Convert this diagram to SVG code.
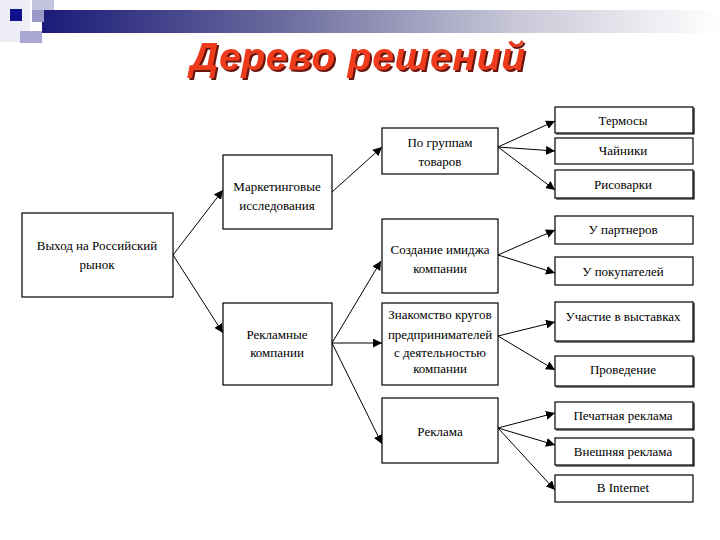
<svg xmlns="http://www.w3.org/2000/svg" width="720" height="540" viewBox="0 0 720 540">
<defs>
<linearGradient id="bar" x1="0" y1="0" x2="1" y2="0">
<stop offset="0" stop-color="#1a1a78"/>
<stop offset="0.35" stop-color="#6a6a9e"/>
<stop offset="0.7" stop-color="#c8c8d8"/>
<stop offset="1" stop-color="#ffffff"/>
</linearGradient>
<filter id="tsh" x="-5%" y="-20%" width="110%" height="150%">
<feDropShadow dx="2" dy="2" stdDeviation="0.6" flood-color="#6a140c" flood-opacity="1"/>
</filter>
<marker id="ah" viewBox="0 0 10 10" refX="10" refY="5" markerWidth="9" markerHeight="9" markerUnits="userSpaceOnUse" orient="auto">
<path d="M0,0 L10,5 L0,10 z" fill="#000"/>
</marker>
<style>
.box{fill:#fff;stroke:#000;stroke-width:1.2}
.sh{fill:none;stroke:#000;stroke-width:1.2}
.c{fill:none;stroke:#000;stroke-width:1;marker-end:url(#ah)}
</style>
</defs>
<rect width="720" height="540" fill="#fff"/>
<g id="banner">
<rect x="0" y="0" width="30" height="42" fill="#eeeef6"/>
<rect x="32" y="0" width="22" height="22" fill="#c4c4de"/>
<rect x="20" y="31" width="22" height="12" fill="#a8a8d2"/>
<rect x="42" y="10" width="678" height="23" fill="url(#bar)"/>
<rect x="32" y="10" width="12" height="12" fill="#9a9ac8"/>
<rect x="10" y="9" width="12" height="12" fill="#10108c"/>
</g>
<g id="title">
<text x="190" y="70" font-family="Liberation Sans, Arial, sans-serif" font-size="39" font-weight="bold" font-style="italic" fill="#ee3a1e" textLength="335" filter="url(#tsh)">Дерево решений</text>
</g>
<g id="connectors">
<path class="c" d="M173,255 L223,190"/>
<path class="c" d="M173,255 L223,333"/>
<path class="c" d="M332,192 L382,147"/>
<path class="c" d="M332,343 L381,261"/>
<path class="c" d="M332,343 L382,343"/>
<path class="c" d="M332,343 L382,444"/>
<path class="c" d="M498,147 L555,121"/>
<path class="c" d="M498,147 L555,151"/>
<path class="c" d="M498,147 L555,190"/>
<path class="c" d="M498,255 L555,230"/>
<path class="c" d="M498,255 L555,273"/>
<path class="c" d="M498,336 L555,322"/>
<path class="c" d="M498,336 L555,370"/>
<path class="c" d="M498,428 L555,413"/>
<path class="c" d="M498,428 L555,445"/>
<path class="c" d="M498,428 L555,490"/>
</g>
<g id="nodes" font-family="Liberation Serif, Times New Roman, serif" font-size="13" text-anchor="middle" fill="#000">
<g id="root">
<rect class="box" x="22" y="213" width="151" height="84"/>
<text x="97" y="250">Выход на Российский</text>
<text x="97" y="269">рынок</text>
</g>
<g id="marketing">
<rect class="box" x="223" y="155" width="109" height="74"/>
<text x="277" y="191">Маркетинговые</text>
<text x="277" y="210">исследования</text>
</g>
<g id="advertising-campaigns">
<rect class="box" x="223" y="303" width="109" height="82"/>
<text x="277" y="339">Рекламные</text>
<text x="277" y="357">компании</text>
</g>
<g id="product-groups">
<rect class="box" x="382" y="128" width="116" height="46"/>
<text x="440" y="147">По группам</text>
<text x="440" y="166">товаров</text>
</g>
<g id="image">
<rect class="box" x="382" y="219" width="116" height="74"/>
<text x="440" y="254">Создание имиджа</text>
<text x="440" y="273">компании</text>
</g>
<g id="acquaintance">
<rect class="box" x="382" y="303" width="116" height="82"/>
<text x="440" y="319">Знакомство кругов</text>
<text x="440" y="339">предпринимателей</text>
<text x="440" y="357">с деятельностью</text>
<text x="440" y="373">компании</text>
</g>
<g id="ads">
<rect class="box" x="382" y="398" width="116" height="65"/>
<text x="440" y="436">Реклама</text>
</g>
<g id="thermos">
<rect class="box" x="555" y="107" width="138" height="26"/>
<path class="sh" d="M556,134 H694 V108"/>
<text x="623" y="125">Термосы</text>
</g>
<g id="kettles">
<rect class="box" x="555" y="138" width="138" height="26"/>
<text x="623" y="155">Чайники</text>
</g>
<g id="ricecookers">
<rect class="box" x="555" y="170" width="138" height="28"/>
<path class="sh" d="M556,199 H694 V171"/>
<text x="623" y="189">Рисоварки</text>
</g>
<g id="partners">
<rect class="box" x="555" y="216" width="138" height="28"/>
<text x="623" y="234">У партнеров</text>
</g>
<g id="customers">
<rect class="box" x="555" y="257" width="138" height="28"/>
<text x="623" y="276">У покупателей</text>
</g>
<g id="exhibitions">
<rect class="box" x="555" y="302" width="138" height="39"/>
<path class="sh" d="M556,342 H694 V303"/>
<text x="623" y="321">Участие в выставках</text>
</g>
<g id="holding">
<rect class="box" x="555" y="356" width="138" height="30"/>
<path class="sh" d="M556,387 H694 V357"/>
<text x="623" y="374">Проведение</text>
</g>
<g id="print">
<rect class="box" x="555" y="402" width="138" height="27"/>
<path class="sh" d="M556,430 H694 V403"/>
<text x="623" y="420">Печатная реклама</text>
</g>
<g id="outdoor">
<rect class="box" x="555" y="438" width="138" height="27"/>
<path class="sh" d="M556,466 H694 V439"/>
<text x="623" y="456">Внешняя реклама</text>
</g>
<g id="internet">
<rect class="box" x="555" y="475" width="138" height="27"/>
<text x="623" y="492">B Internet</text>
</g>
</g>
</svg>
